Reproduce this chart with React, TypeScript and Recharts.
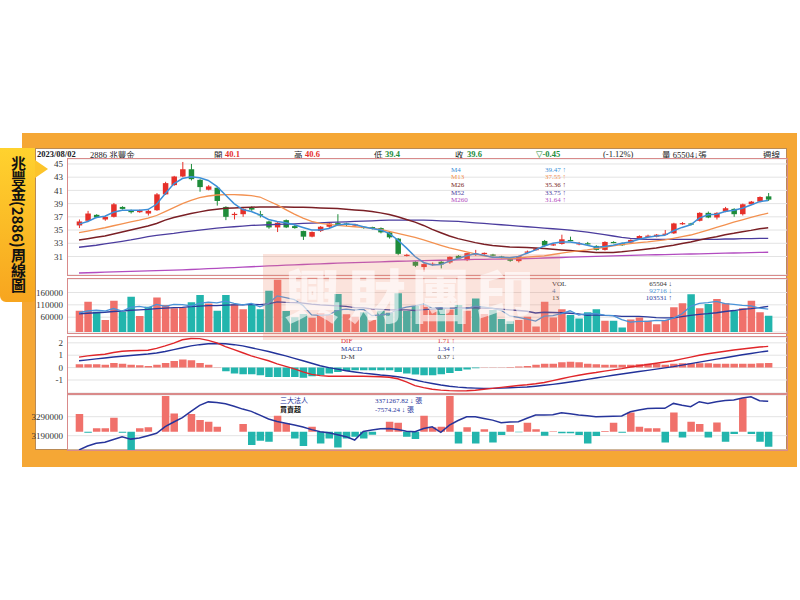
import React from "react";
import { ComposedChart, Bar, Line, XAxis, YAxis, CartesianGrid, Cell } from "recharts";

const weeks = [
  "2022/01/17", "2022/01/24", "2022/01/31", "2022/02/07", "2022/02/14", "2022/02/21", "2022/02/28", "2022/03/07", "2022/03/14", "2022/03/21",
  "2022/03/28", "2022/04/04", "2022/04/11", "2022/04/18", "2022/04/25", "2022/05/02", "2022/05/09", "2022/05/16", "2022/05/23", "2022/05/30",
  "2022/06/06", "2022/06/13", "2022/06/20", "2022/06/27", "2022/07/04", "2022/07/11", "2022/07/18", "2022/07/25", "2022/08/01", "2022/08/08",
  "2022/08/15", "2022/08/22", "2022/08/29", "2022/09/05", "2022/09/12", "2022/09/19", "2022/09/26", "2022/10/03", "2022/10/10", "2022/10/17",
  "2022/10/24", "2022/10/31", "2022/11/07", "2022/11/14", "2022/11/21", "2022/11/28", "2022/12/05", "2022/12/12", "2022/12/19", "2022/12/26",
  "2023/01/02", "2023/01/09", "2023/01/16", "2023/01/23", "2023/01/30", "2023/02/06", "2023/02/13", "2023/02/20", "2023/02/27", "2023/03/06",
  "2023/03/13", "2023/03/20", "2023/03/27", "2023/04/03", "2023/04/10", "2023/04/17", "2023/04/24", "2023/05/01", "2023/05/08", "2023/05/15",
  "2023/05/22", "2023/05/29", "2023/06/05", "2023/06/12", "2023/06/19", "2023/06/26", "2023/07/03", "2023/07/10", "2023/07/17", "2023/07/24",
  "2023/07/31",
];

const monthTicks = [
  "2022/02/14", "2022/03/07", "2022/04/04", "2022/05/09", "2022/06/06", "2022/07/04", "2022/08/08", "2022/09/05", "2022/10/10",
  "2022/11/07", "2022/12/05", "2023/01/02", "2023/01/30", "2023/02/27", "2023/04/03", "2023/05/01", "2023/05/29", "2023/07/03",
];

const opens = [
  35.7, 36.4, 37.3, 36.6, 37.0, 38.5, 38.0, 37.7, 37.5, 38.0,
  40.4, 41.8, 43.1, 44.2, 42.6, 41.1, 41.4, 38.5, 37.35, 37.4,
  38.35, 37.4, 36.3, 35.4, 36.5, 35.6, 34.85, 34.0, 34.85, 35.5,
  36.05, 36.0, 35.7, 35.5, 35.45, 35.3, 34.65, 33.7, 31.15, 30.2,
  29.4, 29.8, 30.2, 30.1, 31.1, 30.45, 31.2, 31.4, 31.3, 31.0,
  30.6, 30.3, 31.6, 31.95, 33.35, 32.7, 32.9, 33.5, 32.9, 33.0,
  32.6, 32.0, 33.2, 33.0, 33.1, 33.7, 34.05, 34.0, 34.35, 34.5,
  35.95, 36.0, 36.4, 37.6, 36.9, 37.8, 38.2, 37.4, 38.9, 39.3,
  40.1,
];
const highs = [
  36.6, 37.9, 37.4, 37.1, 39.1, 38.6, 38.1, 38.1, 38.1, 40.6,
  42.3, 43.2, 45.3, 45.0, 42.7, 41.8, 41.5, 38.6, 37.7, 38.3,
  38.6, 37.9, 36.4, 36.2, 36.6, 35.8, 34.9, 34.8, 35.6, 36.1,
  37.4, 36.1, 35.95, 35.6, 35.5, 35.4, 34.8, 33.8, 31.4, 30.3,
  30.0, 30.1, 30.3, 31.0, 31.2, 31.55, 32.0, 31.6, 31.4, 31.1,
  30.7, 31.1, 31.9, 32.3, 33.5, 33.0, 34.3, 34.0, 33.2, 33.2,
  32.7, 33.3, 33.3, 33.1, 33.6, 34.2, 34.3, 34.4, 35.0, 36.1,
  36.2, 36.1, 37.7, 37.8, 37.7, 38.5, 38.3, 39.0, 39.4, 40.1,
  40.6,
];
const lows = [
  35.3, 36.2, 36.8, 36.4, 36.9, 38.1, 37.5, 37.6, 37.2, 37.9,
  40.3, 41.7, 43.0, 42.5, 40.8, 41.0, 38.7, 36.5, 36.6, 37.0,
  37.9, 36.9, 35.2, 34.7, 35.3, 35.2, 33.5, 33.9, 34.7, 35.3,
  35.6, 35.6, 35.5, 35.2, 35.1, 34.5, 33.7, 31.2, 31.0, 29.4,
  28.7, 29.6, 29.2, 29.9, 30.6, 30.3, 31.1, 31.2, 31.0, 30.7,
  30.2, 30.1, 31.5, 31.9, 32.5, 32.6, 32.8, 33.3, 32.7, 32.8,
  31.9, 31.9, 33.0, 32.6, 33.0, 33.6, 33.9, 33.9, 34.3, 34.4,
  35.8, 35.7, 36.3, 36.8, 36.6, 37.7, 37.0, 37.2, 38.8, 39.2,
  39.4,
];
const closes = [
  36.3, 37.5, 36.9, 37.0, 38.9, 38.2, 37.7, 38.0, 37.9, 40.4,
  42.1, 43.1, 44.2, 42.7, 41.5, 41.6, 39.4, 37.0, 37.45, 38.2,
  38.1, 37.25, 35.4, 36.1, 35.4, 35.3, 34.0, 34.7, 35.5, 36.0,
  35.7, 35.8, 35.85, 35.3, 35.35, 34.65, 33.9, 31.4, 31.25, 29.6,
  29.85, 29.9, 29.8, 30.95, 30.7, 31.5, 31.45, 31.55, 31.2, 30.9,
  30.35, 31.05, 31.75, 32.2, 32.65, 32.85, 33.6, 33.4, 33.0, 32.9,
  32.0, 33.2, 33.1, 32.7, 33.5, 34.1, 34.15, 34.3, 34.45, 36.0,
  36.05, 35.9, 37.6, 36.9, 37.6, 38.3, 37.4, 38.9, 39.3, 40.0,
  39.6,
];

const ma4 = [
  35.9, 36.3, 36.9, 37.1, 37.7, 38.0, 38.0, 38.0, 38.1, 38.9,
  40.5, 42.0, 42.8, 43.05, 42.9, 42.5, 41.6, 40.3, 39.0, 38.1,
  37.8, 37.3, 36.6, 36.3, 36.1, 35.8, 35.4, 35.0, 35.0, 35.25,
  35.75, 35.9, 35.85, 35.5, 35.25, 35.0, 34.5, 33.5, 32.3, 31.0,
  30.1, 29.7, 29.8, 30.3, 30.7, 31.1, 31.4, 31.2, 30.9, 30.9,
  30.8, 31.0, 31.5, 32.0, 32.6, 33.0, 33.2, 33.2, 33.0, 32.7,
  32.4, 32.5, 32.7, 33.0, 33.2, 33.6, 33.9, 34.1, 34.2, 34.9,
  35.4, 35.8, 36.8, 37.3, 37.4, 37.8, 38.0, 38.3, 38.8, 39.3,
  39.47,
];
const ma13 = [
  34.6, 34.85, 35.1, 35.35, 35.65, 35.95, 36.25, 36.5, 36.8, 37.2,
  37.8, 38.4, 39.0, 39.5, 39.9, 40.15, 40.3, 40.35, 40.35, 40.3,
  40.2, 40.0, 39.4, 38.8, 38.1, 37.4, 36.8, 36.3, 36.0, 35.85,
  35.7, 35.6, 35.5, 35.4, 35.25, 35.1, 34.8, 34.5, 34.2, 33.9,
  33.5, 33.1, 32.7, 32.3, 32.0, 31.7, 31.4, 31.1, 30.9, 30.8,
  30.7, 30.75, 30.9, 31.0, 31.1, 31.3, 31.5, 31.7, 31.85, 32.0,
  32.2, 32.4, 32.6, 32.8, 32.95, 33.1, 33.2, 33.35, 33.5, 33.75,
  34.0, 34.25, 34.6, 35.0, 35.4, 35.8, 36.2, 36.55, 36.9, 37.25,
  37.55,
];
const ma26 = [
  33.5, 33.7, 33.9, 34.1, 34.4, 34.7, 35.0, 35.3, 35.6, 36.0,
  36.5, 36.9, 37.2, 37.5, 37.75, 38.0, 38.15, 38.3, 38.35, 38.4,
  38.45, 38.5, 38.5, 38.5, 38.5, 38.45, 38.45, 38.4, 38.35, 38.3,
  38.25, 38.15, 38.05, 37.95, 37.8, 37.6, 37.35, 37.0, 36.6, 36.2,
  35.7, 35.1, 34.6, 34.1, 33.7, 33.4, 33.1, 32.85, 32.65, 32.55,
  32.45, 32.4, 32.35, 32.3, 32.2, 32.1, 32.0, 31.9, 31.8, 31.7,
  31.6, 31.6, 31.6, 31.7, 31.85, 32.0, 32.15, 32.3, 32.5, 32.7,
  32.95, 33.2, 33.5, 33.75, 34.0, 34.3, 34.5, 34.75, 34.95, 35.2,
  35.36,
];
const ma52 = [
  32.4, 32.55, 32.7, 32.9, 33.1, 33.3, 33.5, 33.75, 34.0, 34.2,
  34.35, 34.5, 34.7, 34.85, 35.0, 35.15, 35.3, 35.4, 35.5, 35.6,
  35.7, 35.75, 35.8, 35.85, 35.9, 35.95, 36.0, 36.05, 36.1, 36.15,
  36.2, 36.25, 36.3, 36.35, 36.4, 36.45, 36.5, 36.5, 36.5, 36.5,
  36.5, 36.45, 36.4, 36.35, 36.3, 36.2, 36.1, 36.0, 35.9, 35.8,
  35.7, 35.6, 35.5, 35.4, 35.3, 35.2, 35.1, 35.0, 34.85, 34.7,
  34.5, 34.3, 34.1, 33.9, 33.75, 33.65, 33.6, 33.6, 33.6, 33.6,
  33.6, 33.6, 33.6, 33.6, 33.6, 33.65, 33.65, 33.7, 33.7, 33.75,
  33.75,
];
const ma260 = [
  28.5, 28.54, 28.58, 28.62, 28.66, 28.7, 28.74, 28.78, 28.82, 28.86,
  28.9, 28.94, 28.98, 29.03, 29.09, 29.15, 29.21, 29.27, 29.33, 29.39,
  29.45, 29.51, 29.57, 29.63, 29.69, 29.74, 29.79, 29.84, 29.89, 29.94,
  29.99, 30.04, 30.08, 30.12, 30.16, 30.2, 30.24, 30.28, 30.31, 30.34,
  30.37, 30.4, 30.43, 30.46, 30.49, 30.52, 30.55, 30.57, 30.59, 30.61,
  30.63, 30.66, 30.69, 30.73, 30.77, 30.81, 30.85, 30.89, 30.93, 30.97,
  31.01, 31.05, 31.09, 31.13, 31.17, 31.2, 31.23, 31.26, 31.29, 31.32,
  31.35, 31.38, 31.41, 31.44, 31.47, 31.5, 31.53, 31.56, 31.59, 31.62,
  31.64,
];

const volumes = [
  86000, 123000, 82000, 49000, 127000, 82000, 143000, 65000, 102000, 140000,
  109000, 96000, 98000, 120000, 150000, 115000, 86000, 150000, 112000, 92000,
  112000, 92000, 167000, 212000, 85000, 60000, 73000, 58000, 76000, 69000,
  154000, 72000, 62000, 80000, 49000, 86000, 78000, 157000, 85000, 105000,
  109000, 89000, 94000, 91000, 109000, 86000, 136000, 73000, 89000, 53000,
  44000, 49000, 62000, 22000, 123000, 59000, 92000, 69000, 55000, 80000,
  92000, 46000, 46000, 18000, 51000, 59000, 46000, 31000, 49000, 100000,
  116000, 153000, 96000, 113000, 134000, 116000, 86000, 96000, 127000, 80000,
  65504,
];
const volMa4 = [
  78000, 85000, 88000, 85000, 95000, 85000, 100000, 104000, 98000, 112000,
  104000, 112000, 111000, 106000, 116000, 121000, 118000, 125000, 116000, 110000,
  116000, 102000, 116000, 146000, 139000, 131000, 107000, 69000, 67000, 69000,
  89000, 93000, 89000, 92000, 66000, 69000, 73000, 92000, 101000, 106000,
  114000, 97000, 99000, 96000, 96000, 95000, 105000, 101000, 96000, 88000,
  65000, 59000, 52000, 44000, 64000, 66000, 74000, 86000, 69000, 74000,
  74000, 68000, 66000, 50000, 40000, 43000, 43000, 47000, 46000, 56000,
  74000, 104000, 116000, 119000, 124000, 115000, 112000, 108000, 106000, 97000,
  92716,
];
const volMa13 = [
  73000, 76000, 78000, 80000, 83000, 85000, 88000, 90000, 92000, 95000,
  97000, 99000, 100000, 103000, 105000, 107000, 107000, 109000, 110000, 110000,
  112000, 111000, 114000, 122000, 120000, 119000, 117000, 113000, 110000, 108000,
  106000, 104000, 99000, 98000, 94000, 92000, 90000, 90000, 90000, 87000,
  91000, 93000, 95000, 96000, 97000, 98000, 98000, 97000, 96000, 93000,
  90000, 87000, 84000, 77000, 80000, 79000, 78000, 76000, 73000, 67000,
  69000, 67000, 66000, 63000, 63000, 63000, 61000, 58000, 57000, 57000,
  62000, 67000, 71000, 74000, 78000, 83000, 87000, 92000, 95000, 99000,
  103531,
];

const dif = [
  0.85, 0.95, 1.02, 1.08, 1.22, 1.32, 1.36, 1.38, 1.4, 1.55,
  1.75, 1.98, 2.25, 2.35, 2.34, 2.2, 2.0, 1.7, 1.45, 1.2,
  0.95, 0.75, 0.55, 0.3, 0.1, -0.1, -0.35, -0.55, -0.65, -0.7,
  -0.7, -0.7, -0.7, -0.7, -0.72, -0.74, -0.78, -0.9, -1.15, -1.45,
  -1.62, -1.75, -1.82, -1.86, -1.88, -1.87, -1.83, -1.75, -1.68, -1.6,
  -1.52, -1.44, -1.38, -1.3, -1.2, -1.05, -0.9, -0.75, -0.62, -0.5,
  -0.4, -0.28, -0.18, -0.08, 0.05, 0.15, 0.25, 0.35, 0.45, 0.55,
  0.7, 0.85, 1.0, 1.12, 1.22, 1.32, 1.42, 1.5, 1.58, 1.66,
  1.71,
];
const macd = [
  0.55, 0.62, 0.7, 0.78, 0.86, 0.92, 0.98, 1.04, 1.1, 1.18,
  1.3, 1.45, 1.6, 1.75, 1.85, 1.92, 1.95, 1.93, 1.85, 1.75,
  1.6, 1.45, 1.3, 1.12, 0.95, 0.75, 0.55, 0.35, 0.15, 0.0,
  -0.12, -0.25, -0.35, -0.45, -0.52, -0.6, -0.66, -0.74, -0.85, -1.0,
  -1.15, -1.28, -1.4, -1.5, -1.58, -1.63, -1.66, -1.68, -1.68, -1.66,
  -1.63, -1.6, -1.56, -1.5, -1.43, -1.35, -1.26, -1.16, -1.06, -0.95,
  -0.84, -0.73, -0.62, -0.52, -0.42, -0.32, -0.22, -0.12, -0.02, 0.08,
  0.2, 0.32, 0.44, 0.56, 0.68, 0.8, 0.92, 1.04, 1.14, 1.25,
  1.34,
];
const dm = [
  0.27, 0.27, 0.27, 0.24, 0.38, 0.32, 0.24, 0.19, 0.13, 0.24,
  0.38, 0.54, 0.65, 0.59, 0.38, 0.24, 0.02, -0.29, -0.48, -0.54,
  -0.54, -0.62, -0.75, -0.75, -0.75, -0.75, -0.81, -0.7, -0.62, -0.48,
  -0.35, -0.27, -0.22, -0.22, -0.22, -0.22, -0.22, -0.35, -0.48, -0.56,
  -0.62, -0.62, -0.54, -0.43, -0.27, -0.16, -0.05, 0.03, 0.03, 0.03,
  0.05, 0.08, 0.13, 0.24, 0.32, 0.32, 0.43, 0.48, 0.43, 0.32,
  0.27, 0.24, 0.24, 0.24, 0.24, 0.27, 0.32, 0.32, 0.24, 0.32,
  0.35, 0.35, 0.35, 0.35, 0.32, 0.32, 0.32, 0.32, 0.32, 0.35,
  0.37,
];

const instHold = [
  3115000, 3136000, 3150000, 3156000, 3170000, 3184000, 3172000, 3178000, 3190000, 3203000,
  3238000, 3262000, 3285000, 3318000, 3350000, 3368000, 3365000, 3358000, 3345000, 3330000,
  3318000, 3298000, 3278000, 3265000, 3255000, 3246000, 3236000, 3222000, 3211000, 3205000,
  3195000, 3185000, 3167000, 3212000, 3220000, 3226000, 3228000, 3222000, 3213000, 3211000,
  3228000, 3237000, 3208000, 3246000, 3270000, 3290000, 3290000, 3281000, 3272000, 3258000,
  3262000, 3264000, 3282000, 3299000, 3299000, 3300000, 3311000, 3305000, 3299000, 3295000,
  3290000, 3291000, 3292000, 3294000, 3316000, 3325000, 3333000, 3334000, 3334000, 3360000,
  3350000, 3343000, 3369000, 3360000, 3369000, 3375000, 3378000, 3388000, 3395000, 3374000,
  3371267.82,
];
const instNet = [
  8900, -500, 1700, 1700, 7000, -500, -9200, 1700, 2200, 0,
  18000, 9200, 0, 8900, 5900, 5000, 2500, 0, 0, 3900,
  -6700, -4500, -5000, 8000, 4200, -3400, -7200, 2500, -5900, -3400,
  -8000, -3400, -2500, -3400, -1500, 0, 5000, 4500, -2500, -3700,
  8000, 2200, 2500, 18000, -5900, 2200, -5900, 1200, -5500, -1700,
  3400, -300, 4500, 1200, -2000, 200, -800, -800, -1700, -5900,
  -2200, 300, 4500, -500, 9700, 2500, 1700, 1700, -5500, 9700,
  -2900, 5000, 3900, -2900, 4700, -5000, -1200, 16800, -1200, -5000,
  -7574.24,
];

const priceTicks = [31, 33, 35, 37, 39, 41, 43, 45];
const volTicks = [60000, 110000, 160000];
const macdTicks = [-1, 0, 1, 2];
const instTicks = [3190000, 3290000];

const rows = weeks.map((week, i) => ({
  week,
  open: opens[i],
  high: highs[i],
  low: lows[i],
  close: closes[i],
  range: [lows[i], highs[i]],
  ma4: ma4[i],
  ma13: ma13[i],
  ma26: ma26[i],
  ma52: ma52[i],
  ma260: ma260[i],
  vol: volumes[i],
  volMa4: volMa4[i],
  volMa13: volMa13[i],
  dif: dif[i],
  macd: macd[i],
  dm: dm[i],
  inst: instHold[i],
  net: instNet[i],
}));

const RED = "#e6302a";
const GREEN = "#1e8c3a";
const SALMON = "#f0716b";
const TEAL = "#22b5ad";
const BORDER = "#d98a8a";
const ORANGE = "#f5a735";
const SERIF = "'Liberation Serif', 'DejaVu Serif', serif";
const CJK = "'Noto Sans CJK TC', 'Noto Sans', sans-serif";
const xPad = { left: 6.7, right: 14.5 };
const margin = (top: number, bottom: number) => ({ top, bottom, left: 8, right: 13 });
const axisTick = { fontSize: 9, fill: "#333", fontFamily: SERIF };

const Candle = (props: any) => {
  const { x, y, width, height, payload } = props;
  if (x == null || !payload) return null;
  const top = Math.min(y, y + height);
  const h = Math.abs(height);
  const span = payload.high - payload.low || 1;
  const yOpen = top + ((payload.high - payload.open) / span) * h;
  const yClose = top + ((payload.high - payload.close) / span) * h;
  const color = payload.close >= payload.open ? RED : GREEN;
  const cx = x + width / 2;
  return (
    <g>
      <line x1={cx} x2={cx} y1={top} y2={top + h} stroke={color} strokeWidth={1} />
      <rect x={x} y={Math.min(yOpen, yClose)} width={width} height={Math.max(Math.abs(yOpen - yClose), 1.2)} fill={color} />
    </g>
  );
};

// legend rows sit about 8px apart, so the text box is kept as tall as the font
const Txt = ({ x, y, c = "#222", s = 8.5, b = false, f = SERIF, right = false, children }: any) => (
  <div
    style={{
      position: "absolute",
      left: right ? undefined : x,
      right: right ? 800 - x : undefined,
      top: y - s / 2,
      height: s,
      fontSize: s,
      lineHeight: `${s}px`,
      color: c,
      fontWeight: b ? 700 : 400,
      fontFamily: f,
      whiteSpace: "nowrap",
    }}
  >
    {children}
  </div>
);

const Panel = ({ top, height }: { top: number; height: number }) => (
  <div
    style={{
      position: "absolute",
      left: 67,
      top,
      width: 721,
      height,
      border: `1px solid ${BORDER}`,
      boxSizing: "border-box",
      pointerEvents: "none",
    }}
  />
);

const Abs = ({ top, children }: any) => (
  <div style={{ position: "absolute", left: 0, top }}>{children}</div>
);

const line = (key: string, color: string, width = 1.3, yAxisId?: string) => (
  <Line
    key={key}
    dataKey={key}
    yAxisId={yAxisId}
    stroke={color}
    strokeWidth={width}
    dot={false}
    activeDot={false}
    type="linear"
    isAnimationActive={false}
  />
);

const valueAxis = (domain: number[], ticks: number[]) => (
  <YAxis
    domain={domain}
    ticks={ticks}
    interval={0}
    width={60}
    axisLine={false}
    tickLine={false}
    tickSize={0}
    tickMargin={5}
    tick={axisTick}
    allowDataOverflow
  />
);

const LS = 7;

export default function App() {
  return (
    <div style={{ position: "absolute", left: 0, top: 0, width: 800, height: 600, background: "#fff", overflow: "hidden" }}>
      <div style={{ position: "absolute", left: 22, top: 133, width: 775, height: 334, background: ORANGE }} />
      <div
        style={{
          position: "absolute",
          left: 35,
          top: 148,
          width: 752,
          height: 302,
          background: "#fff",
          border: "1px solid #b98a55",
          boxSizing: "border-box",
        }}
      />

      <Txt x={37} y={154} b>2023/08/02</Txt>
      <Txt x={90} y={154}>2886 <span style={{ fontFamily: CJK }}>兆豐金</span></Txt>
      <Txt x={214} y={154} f={CJK}>開</Txt>
      <Txt x={225} y={154} c={RED} b>40.1</Txt>
      <Txt x={294} y={154} f={CJK}>高</Txt>
      <Txt x={305} y={154} c={RED} b>40.6</Txt>
      <Txt x={374} y={154} f={CJK}>低</Txt>
      <Txt x={385} y={154} c={GREEN} b>39.4</Txt>
      <Txt x={455} y={154} f={CJK}>收</Txt>
      <Txt x={467} y={154} c={GREEN} b>39.6</Txt>
      <Txt x={536} y={154} c={GREEN} b>▽-0.45</Txt>
      <Txt x={603} y={154}>(-1.12%)</Txt>
      <Txt x={662} y={154}><span style={{ fontFamily: CJK }}>量</span> 65504↓<span style={{ fontFamily: CJK }}>張</span></Txt>
      <Txt x={763} y={154} f={CJK}>週線</Txt>

      <Abs top={150}>
        <ComposedChart width={800} height={130} data={rows} margin={margin(9, 5)}>
          <CartesianGrid horizontal vertical={false} stroke="#e3e3e3" />
          <XAxis
            dataKey="week"
            ticks={monthTicks}
            interval={0}
            padding={xPad}
            height={0}
            mirror
            tick={false}
            axisLine={false}
            tickLine={{ stroke: "#c97a7a" }}
            tickSize={3}
          />
          {valueAxis([28.2, 45.75], priceTicks)}
          <Bar dataKey="range" barSize={5.5} shape={Candle} isAnimationActive={false} />
          {line("ma260", "#b24cc0")}
          {line("ma52", "#4b3c9e")}
          {line("ma26", "#7a1f25", 1.5)}
          {line("ma13", "#f39150")}
          {line("ma4", "#3d8fd8", 1.5)}
        </ComposedChart>
      </Abs>

      <Abs top={270}>
        <ComposedChart width={800} height={70} data={rows} margin={margin(9, 8)}>
          <CartesianGrid horizontal vertical={false} stroke="#e3e3e3" />
          <XAxis dataKey="week" padding={xPad} hide />
          {valueAxis([0, 214650], volTicks)}
          <Bar dataKey="vol" barSize={7.5} isAnimationActive={false}>
            {rows.map((r, i) => (
              <Cell key={r.week} fill={r.close >= (i > 0 ? closes[i - 1] : r.open) ? SALMON : TEAL} />
            ))}
          </Bar>
          {line("volMa13", "#2b3b9c")}
          {line("volMa4", "#4a93d8")}
        </ComposedChart>
      </Abs>

      <Abs top={330}>
        <ComposedChart width={800} height={70} data={rows} margin={margin(7, 7)}>
          <CartesianGrid horizontal vertical={false} stroke="#e3e3e3" />
          <XAxis dataKey="week" padding={xPad} hide />
          {valueAxis([-2.05, 2.47], macdTicks)}
          <Bar dataKey="dm" barSize={7.5} isAnimationActive={false}>
            {rows.map((r) => (
              <Cell key={r.week} fill={r.dm >= 0 ? SALMON : TEAL} />
            ))}
          </Bar>
          {line("macd", "#22329a", 1.4)}
          {line("dif", "#e0262a", 1.4)}
        </ComposedChart>
      </Abs>

      <Abs top={390}>
        <ComposedChart width={800} height={65} data={rows} margin={margin(5, 5)}>
          <CartesianGrid horizontal vertical={false} stroke="#e3e3e3" />
          <XAxis dataKey="week" padding={xPad} hide />
          {valueAxis([3114700, 3404200], instTicks)}
          <YAxis yAxisId="net" domain={[-9220, 18500]} hide allowDataOverflow />
          <Bar dataKey="net" yAxisId="net" barSize={7.5} isAnimationActive={false}>
            {rows.map((r) => (
              <Cell key={r.week} fill={r.net >= 0 ? SALMON : TEAL} />
            ))}
          </Bar>
          {line("inst", "#27359b", 1.5)}
        </ComposedChart>
      </Abs>

      <div style={{ position: "absolute", left: 22, top: 450, width: 775, height: 17, background: ORANGE }} />

      <Panel top={158} height={118} />
      <Panel top={278} height={56} />
      <Panel top={336} height={58} />
      <Panel top={394} height={57} />

      <Txt x={451} y={170} s={LS} c="#3d8fd8">M4</Txt>
      <Txt x={451} y={177.7} s={LS} c="#f39150">M13</Txt>
      <Txt x={451} y={185.4} s={LS} c="#7a1f25">M26</Txt>
      <Txt x={451} y={193.1} s={LS} c="#4b3c9e">M52</Txt>
      <Txt x={451} y={200.8} s={LS} c="#b24cc0">M260</Txt>
      <Txt right x={566} y={170} s={LS} c="#3d8fd8">39.47 ↑</Txt>
      <Txt right x={566} y={177.7} s={LS} c="#f39150">37.55 ↑</Txt>
      <Txt right x={566} y={185.4} s={LS} c="#7a1f25">35.36 ↑</Txt>
      <Txt right x={566} y={193.1} s={LS} c="#4b3c9e">33.75 ↑</Txt>
      <Txt right x={566} y={200.8} s={LS} c="#b24cc0">31.64 ↑</Txt>

      <Txt x={552} y={284} s={LS} c="#333">VOL</Txt>
      <Txt x={552} y={291.4} s={LS} c="#4a7ab0">4</Txt>
      <Txt x={552} y={298.8} s={LS} c="#333">13</Txt>
      <Txt right x={672} y={284} s={LS} c="#333">65504 ↓</Txt>
      <Txt right x={672} y={291.4} s={LS} c="#4a93d8">92716 ↓</Txt>
      <Txt right x={672} y={298.8} s={LS} c="#2b3b9c">103531 ↑</Txt>

      <Txt x={341} y={341.5} s={LS} c="#e0262a">DIF</Txt>
      <Txt x={341} y={349.5} s={LS} c="#22329a">MACD</Txt>
      <Txt x={341} y={357.5} s={LS} c="#333">D-M</Txt>
      <Txt right x={455} y={341.5} s={LS} c="#e0262a">1.71 ↑</Txt>
      <Txt right x={455} y={349.5} s={LS} c="#22329a">1.34 ↑</Txt>
      <Txt right x={455} y={357.5} s={LS} c="#333">0.37 ↓</Txt>

      <Txt x={280} y={400} s={LS} c="#27359b" f={CJK}>三大法人</Txt>
      <Txt x={280} y={409} s={LS} c="#111" b f={CJK}>買賣超</Txt>
      <Txt x={375} y={400} s={LS} c="#27359b">3371267.82 ↓ <span style={{ fontFamily: CJK }}>張</span></Txt>
      <Txt x={375} y={409} s={LS} c="#27359b">-7574.24 ↓ <span style={{ fontFamily: CJK }}>張</span></Txt>

      <div
        style={{
          position: "absolute",
          left: 263,
          top: 254,
          width: 297,
          height: 86,
          background: "rgba(240, 140, 110, 0.24)",
          pointerEvents: "none",
        }}
      />
      <div
        style={{
          position: "absolute",
          left: 263,
          top: 260,
          width: 297,
          height: 66,
          color: "rgba(255,255,255,0.62)",
          fontFamily: CJK,
          fontWeight: 900,
          fontSize: 58,
          lineHeight: "66px",
          textAlign: "center",
          letterSpacing: 6,
          pointerEvents: "none",
          whiteSpace: "nowrap",
        }}
      >
        興財團印
      </div>

      <div
        style={{
          position: "absolute",
          left: 0,
          top: 148,
          width: 35,
          height: 154,
          background: "linear-gradient(to bottom, #ffd22e, #f7a51f)",
          borderRadius: "0 0 4px 6px",
        }}
      />
      <div
        style={{
          position: "absolute",
          left: 35,
          top: 160,
          width: 0,
          height: 0,
          borderTop: "9px solid transparent",
          borderBottom: "9px solid transparent",
          borderLeft: "13px solid #fcc42a",
        }}
      />
      <div
        style={{
          position: "absolute",
          left: 9,
          top: 156,
          width: 18,
          writingMode: "vertical-rl",
          fontFamily: CJK,
          fontWeight: 700,
          fontSize: 15,
          lineHeight: "18px",
          color: "#111",
        }}
      >
        兆豐金(2886)周線圖
      </div>
    </div>
  );
}
